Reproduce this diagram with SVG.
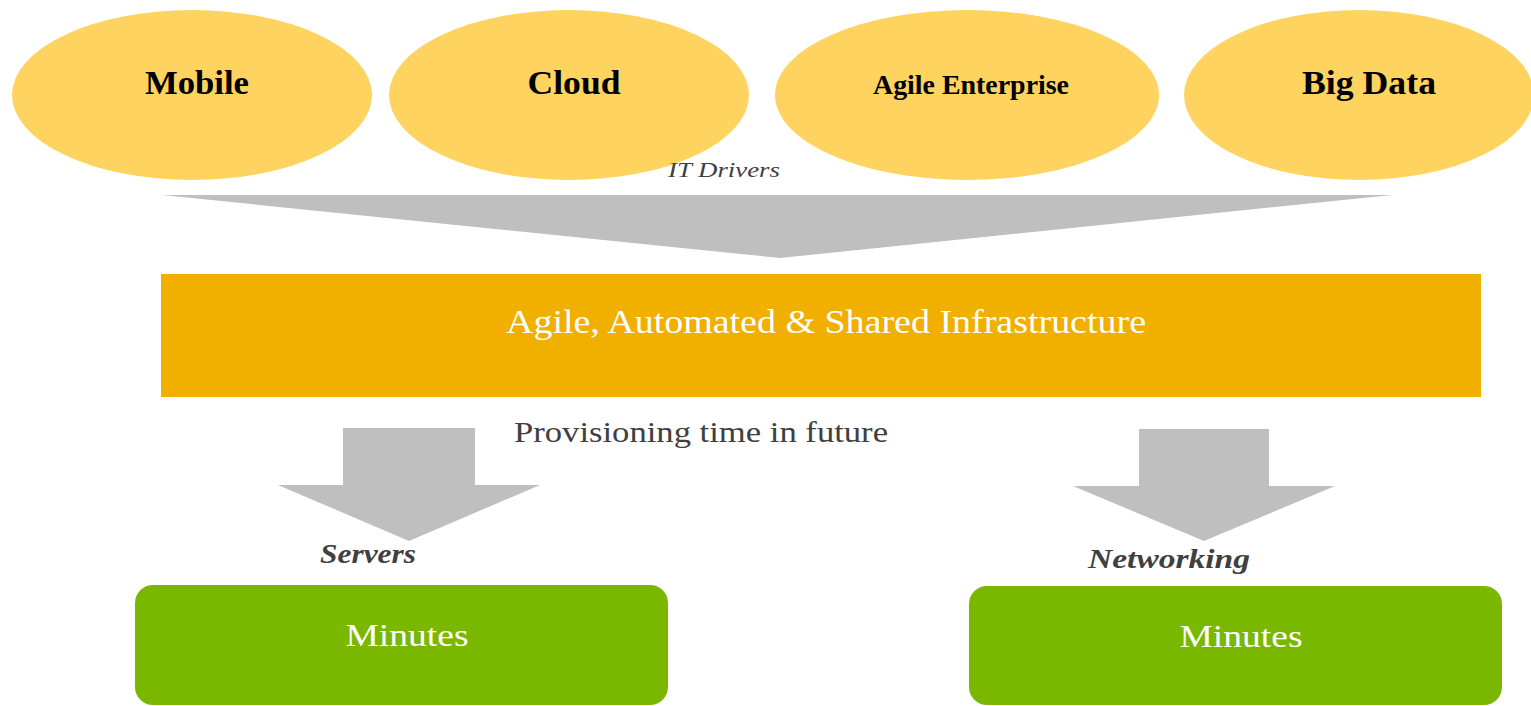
<svg xmlns="http://www.w3.org/2000/svg" width="1531" height="706" viewBox="0 0 1531 706">
<style>
.drv{fill:#FFD35F}
.drvt{font-family:"Liberation Serif",serif;fill:#000;text-anchor:middle;font-weight:bold}
.arr{fill:#BFBFBF}
.lbl{font-family:"Liberation Serif",serif;fill:#404040}
.res{fill:#7AB800}
.rest{font-family:"Liberation Serif",serif;fill:#fff;font-size:32px;text-anchor:middle}
</style>
<rect width="1531" height="706" fill="#fff"/>
<g id="mobile"><ellipse class="drv" cx="192" cy="95" rx="180" ry="85"/><text class="drvt" x="197" y="94" font-size="34" textLength="104" lengthAdjust="spacingAndGlyphs">Mobile</text></g>
<g id="cloud"><ellipse class="drv" cx="569" cy="95" rx="180" ry="85"/><text class="drvt" x="574" y="94" font-size="34" textLength="93" lengthAdjust="spacingAndGlyphs">Cloud</text></g>
<g id="agile-enterprise"><ellipse class="drv" cx="967" cy="95" rx="192" ry="85"/><text class="drvt" x="971" y="94" font-size="27" textLength="196" lengthAdjust="spacingAndGlyphs">Agile Enterprise</text></g>
<g id="big-data"><ellipse class="drv" cx="1359" cy="95" rx="175" ry="85"/><text class="drvt" x="1369" y="94" font-size="34" textLength="134" lengthAdjust="spacingAndGlyphs">Big Data</text></g>
<g id="connectors">
<polygon class="arr" points="162,195 1392,195 780,258"/>
<polygon class="arr" points="343,428 475,428 475,485 540,485 409,541 278,485 343,485"/>
<polygon class="arr" points="1139,429 1269,429 1269,486 1335,486 1204,541 1073,486 1139,486"/>
</g>
<text class="lbl" x="668" y="177" font-size="22" font-style="italic" textLength="112" lengthAdjust="spacingAndGlyphs">IT Drivers</text>
<g id="infrastructure"><rect x="161" y="274" width="1320" height="123" fill="#F1AF00"/><text x="826" y="333" font-family="'Liberation Serif',serif" font-size="34" fill="#fff" text-anchor="middle" textLength="640" lengthAdjust="spacingAndGlyphs">Agile, Automated &amp; Shared Infrastructure</text></g>
<text class="lbl" x="514" y="442" font-size="30" textLength="374" lengthAdjust="spacingAndGlyphs">Provisioning time in future</text>
<text class="lbl" x="320" y="563" font-size="28" font-style="italic" font-weight="bold" textLength="96" lengthAdjust="spacingAndGlyphs">Servers</text>
<text class="lbl" x="1088" y="568" font-size="28" font-style="italic" font-weight="bold" textLength="162" lengthAdjust="spacingAndGlyphs">Networking</text>
<g id="servers-minutes"><rect class="res" x="135" y="585" width="533" height="120" rx="18"/><text class="rest" x="407" y="646" textLength="123" lengthAdjust="spacingAndGlyphs">Minutes</text></g>
<g id="networking-minutes"><rect class="res" x="969" y="586" width="533" height="119" rx="18"/><text class="rest" x="1241" y="647" textLength="123" lengthAdjust="spacingAndGlyphs">Minutes</text></g>
</svg>
